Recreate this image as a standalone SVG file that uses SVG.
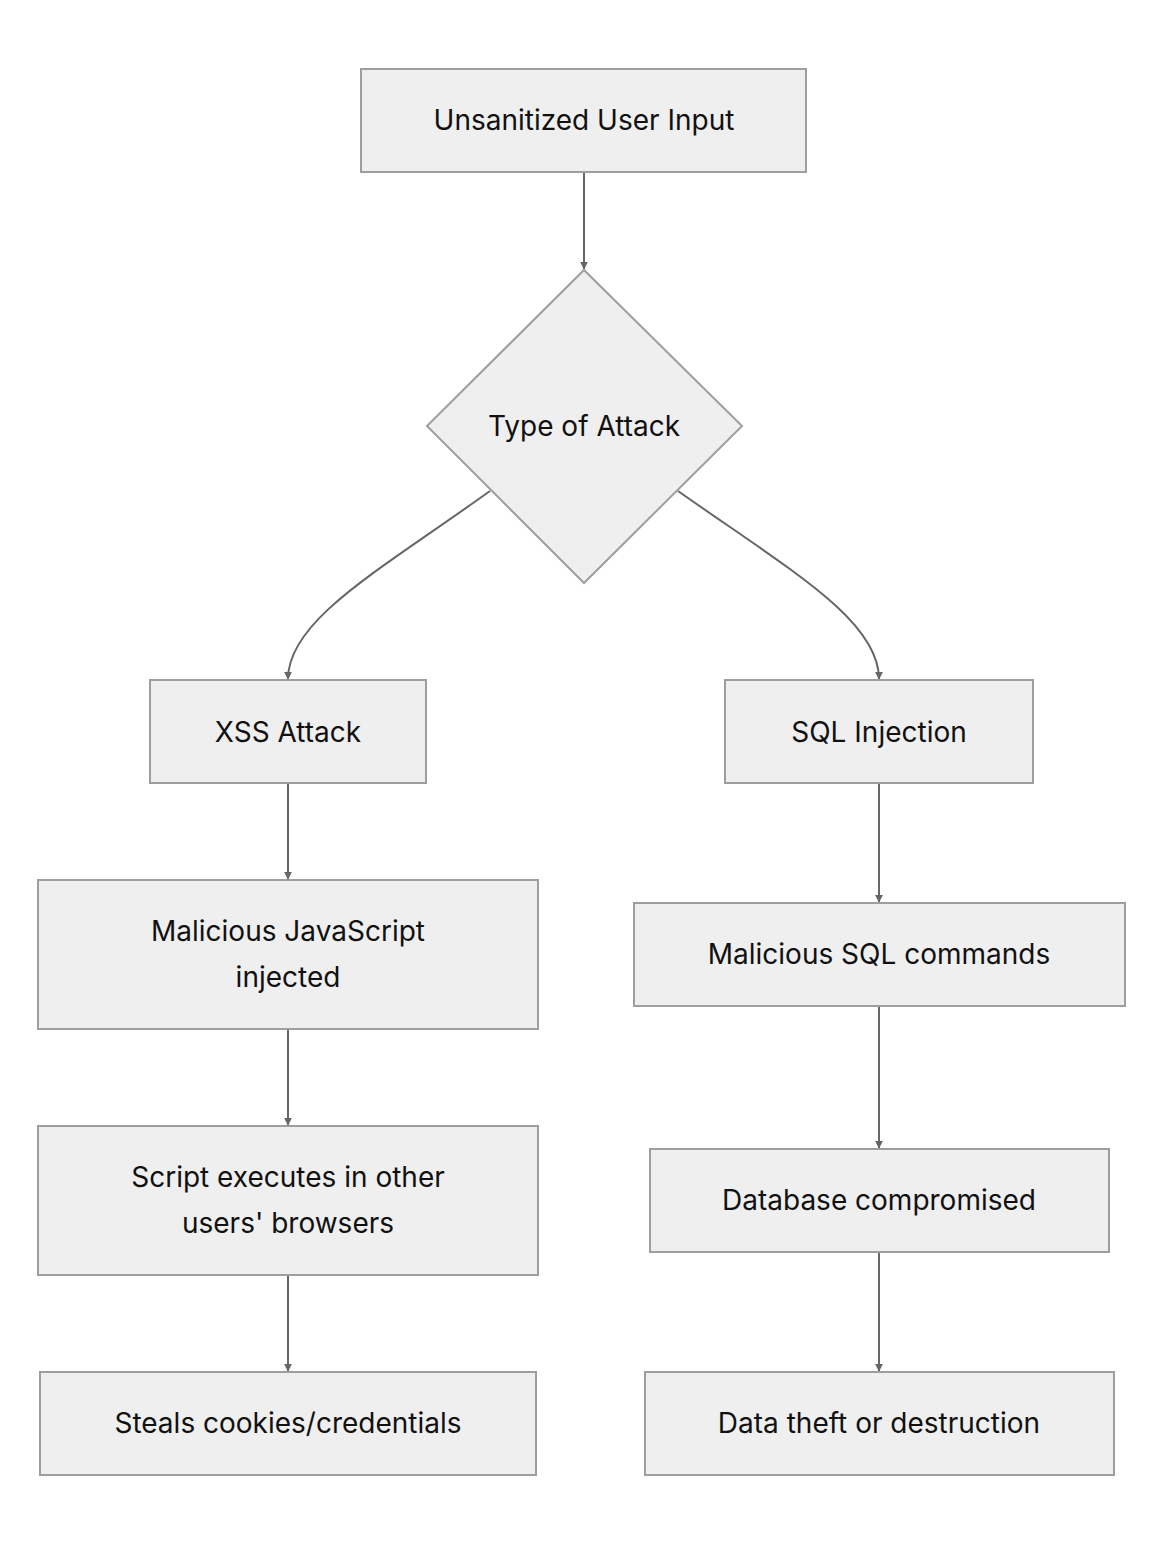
<svg xmlns="http://www.w3.org/2000/svg" width="1164" height="1544" viewBox="0 0 1164 1544">
<style>
.n{fill:#efefef;stroke:#9e9e9e;stroke-width:2}
.t{font-family:Inter,"Liberation Sans",sans-serif;font-size:28px;fill:#111;text-anchor:middle;dominant-baseline:central}
.e{fill:none;stroke:#666;stroke-width:2;marker-end:url(#a)}
</style>
<defs><marker id="a" viewBox="0 0 10 10" refX="9" refY="5" markerWidth="8" markerHeight="8" markerUnits="userSpaceOnUse" orient="auto"><path d="M0,0L10,5L0,10z" fill="#666"/></marker></defs>
<rect width="1164" height="1544" fill="#fff"/>
<g id="edges">
<path class="e" d="M584,172V269"/>
<path class="e" d="M490,491C380,570 288,620 288,679"/>
<path class="e" d="M678,491C790,570 879,620 879,679"/>
<path class="e" d="M288,783V879"/>
<path class="e" d="M288,1029V1125"/>
<path class="e" d="M288,1275V1371"/>
<path class="e" d="M879,783V902"/>
<path class="e" d="M879,1006V1148"/>
<path class="e" d="M879,1252V1371"/>
</g>
<g id="input"><rect class="n" x="361" y="69" width="445" height="103"/><text class="t" x="584" y="120">Unsanitized User Input</text></g>
<g id="type"><polygon class="n" points="584,270 742,426 584,583 427,426"/><text class="t" x="584" y="426">Type of Attack</text></g>
<g id="xss"><rect class="n" x="150" y="680" width="276" height="103"/><text class="t" x="288" y="732">XSS Attack</text></g>
<g id="sql"><rect class="n" x="725" y="680" width="308" height="103"/><text class="t" x="879" y="732">SQL Injection</text></g>
<g id="js"><rect class="n" x="38" y="880" width="500" height="149"/><text class="t" x="288" y="931">Malicious JavaScript</text><text class="t" x="288" y="977">injected</text></g>
<g id="exec"><rect class="n" x="38" y="1126" width="500" height="149"/><text class="t" x="288" y="1177">Script executes in other</text><text class="t" x="288" y="1223">users' browsers</text></g>
<g id="steal"><rect class="n" x="40" y="1372" width="496" height="103"/><text class="t" x="288" y="1423">Steals cookies/credentials</text></g>
<g id="sqlc"><rect class="n" x="634" y="903" width="491" height="103"/><text class="t" x="879" y="954">Malicious SQL commands</text></g>
<g id="db"><rect class="n" x="650" y="1149" width="459" height="103"/><text class="t" x="879" y="1200">Database compromised</text></g>
<g id="theft"><rect class="n" x="645" y="1372" width="469" height="103"/><text class="t" x="879" y="1423">Data theft or destruction</text></g>
</svg>
